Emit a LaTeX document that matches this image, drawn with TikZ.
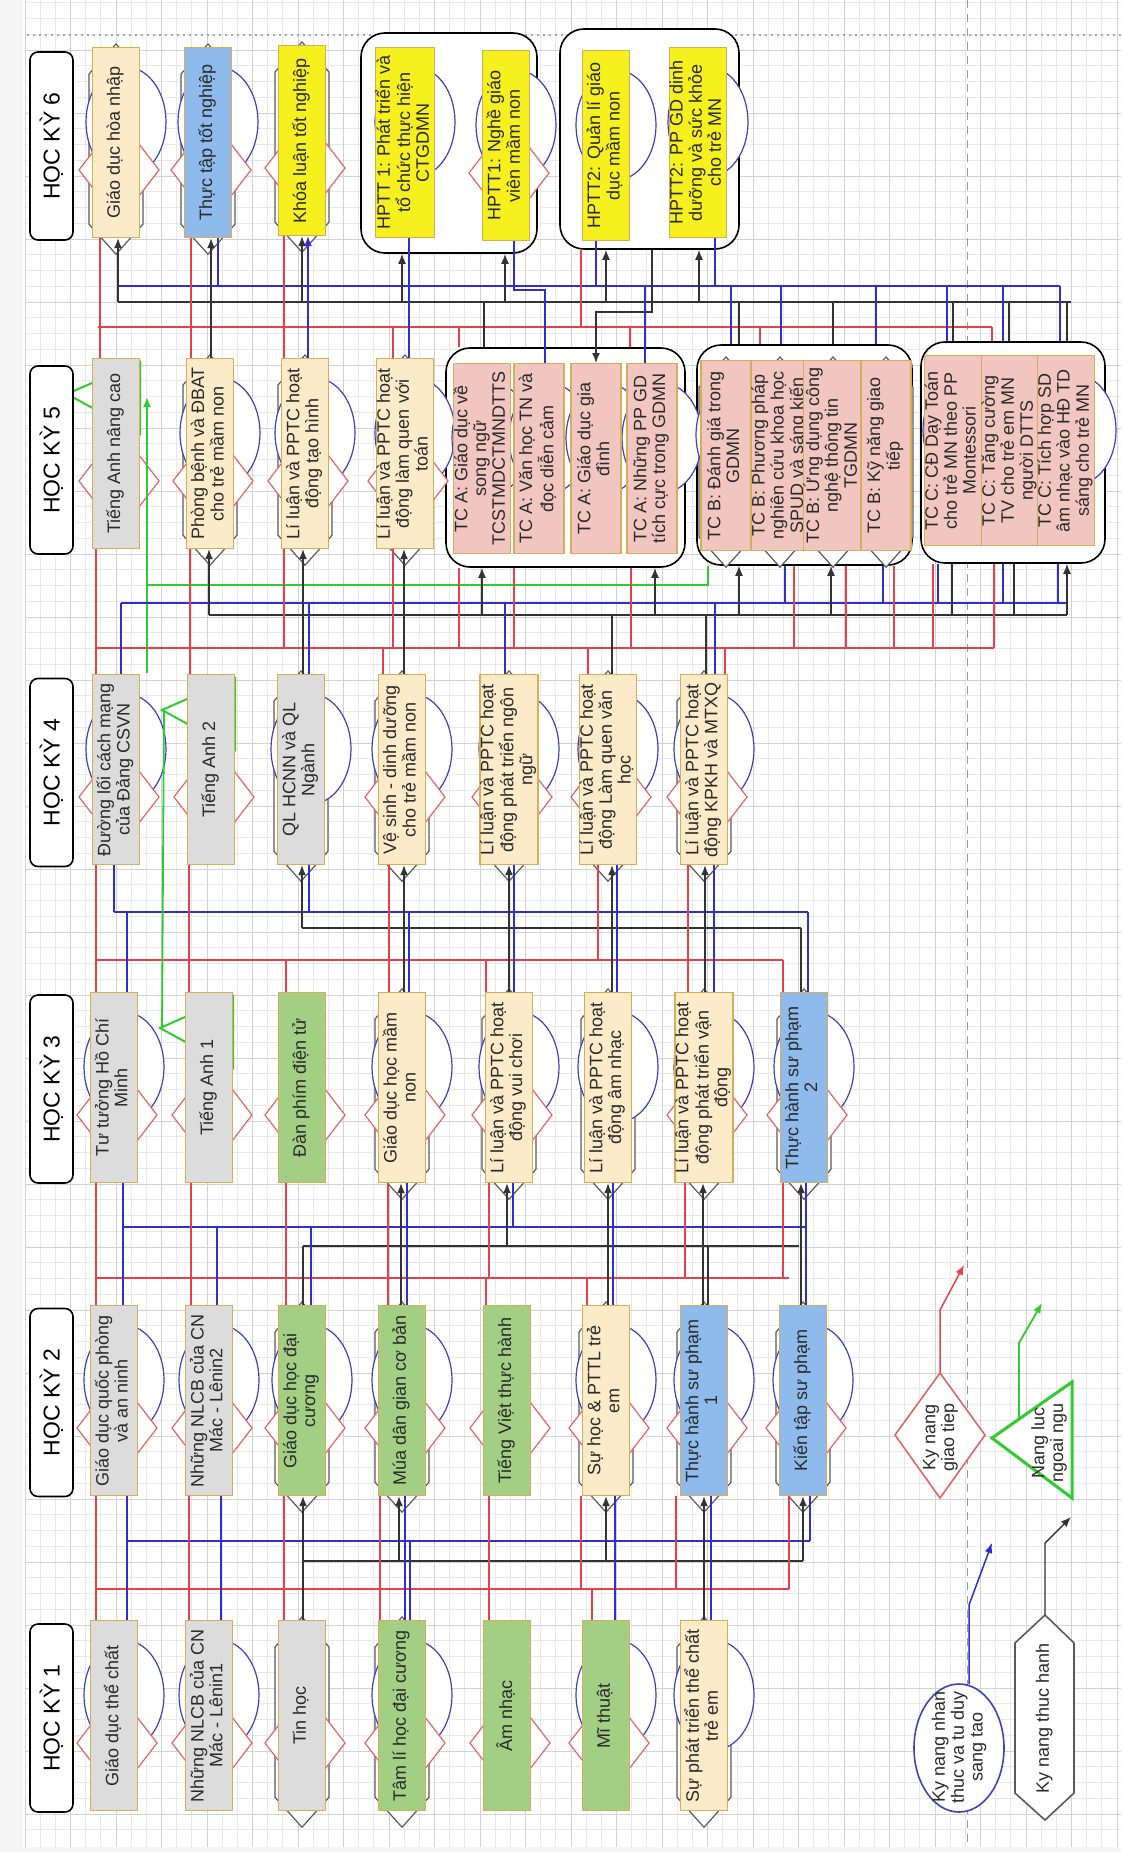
\documentclass[tikz,border=0pt]{standalone}
\usepackage{fontspec}
\setmainfont{Liberation Sans}
\usetikzlibrary{arrows.meta,calc}
\definecolor{cream}{HTML}{FCEBC9}
\definecolor{grayb}{HTML}{DCDCDC}
\definecolor{blueb}{HTML}{8EBBEB}
\definecolor{yellb}{HTML}{F6F01E}
\definecolor{greenb}{HTML}{A3CF85}
\definecolor{pinkb}{HTML}{F2C6C0}
\definecolor{bordc}{HTML}{D6AE5A}
\definecolor{txtc}{HTML}{2A2A2A}
\definecolor{redc}{HTML}{E8404A}
\definecolor{bluec}{HTML}{2F2FD0}
\definecolor{blkc}{HTML}{333333}
\definecolor{grnc}{HTML}{2ECC2E}
\definecolor{ellc}{HTML}{4040C0}
\definecolor{diac}{HTML}{E06666}
\definecolor{hexc}{HTML}{5A5A5A}
\definecolor{gmin}{HTML}{E8E8E8}
\definecolor{gmaj}{HTML}{D2D2D2}
\definecolor{margc}{HTML}{F5F5F5}
\pgfdeclarelayer{gridl}\pgfdeclarelayer{grp}\pgfdeclarelayer{deco}\pgfdeclarelayer{conn}
\pgfsetlayers{gridl,grp,deco,conn,main}
\newcommand\rtext[1]{\rotatebox{90}{\begin{tabular}{@{}c@{}}#1\end{tabular}}}
\newcommand\vl[4]{\draw[#1] (#2,0 |- #3) -- (#2,0 |- #4);}
\newcommand\decE[1]{\draw[ellst] ($(#1.north)+(10,75)$) ellipse [x radius=20pt, y radius=27.5pt];}
\newcommand\decD[1]{\draw[diast] ($(#1.north)+(3,71)$) -- ++(40,52) -- ++(-40,52) -- ++(-40,-52) -- cycle;}
\newcommand\decH[1]{\draw[hexst] ($(#1.north)+(0,-3)$) -- ($(#1.north)+(27,27)$) -- ($(#1.south)+(27,-14)$) -- ($(#1.south)+(0,16)$) -- ($(#1.south)+(-27,-14)$) -- ($(#1.north)+(-27,27)$) -- cycle;}
\newcommand\decT[1]{\draw[trist] ($(#1.north)+(-49,36)$) -- ($(#1.north)+(24,4)$) -- ($(#1.north)+(24,76)$) -- cycle;}
\begin{document}
\begin{tikzpicture}[x=0.5pt,y=-0.5pt,
  course/.style={draw=bordc,line width=0.6pt,minimum width=23.5pt,minimum height=95pt,inner sep=0pt,anchor=north,text=txtc,font=\fontsize{9}{9.4}\selectfont},
  tcb/.style={course,fill=pinkb,minimum width=25pt},
  lab/.style={draw=black,line width=0.8pt,rounded corners=4pt,fill=white,minimum width=21.5pt,minimum height=94pt,inner sep=0pt,font=\fontsize{11.5}{12}\selectfont},
  grpbox/.style={draw=black,line width=0.8pt,rounded corners=12pt,fill=white,inner sep=0pt},
  ellst/.style={draw=ellc,line width=0.6pt,fill=white},
  diast/.style={draw=diac,line width=0.6pt,fill=white},
  hexst/.style={draw=hexc,line width=0.6pt,fill=white},
  trist/.style={draw=grnc,line width=1pt,fill=white},
  rl/.style={draw=redc,line width=0.75pt},
  bl/.style={draw=bluec,line width=0.75pt},
  kl/.style={draw=blkc,line width=0.7pt},
  gl/.style={draw=grnc,line width=0.9pt},
  ka/.style={kl,-{Latex[length=5pt,width=4pt]}},
  ba/.style={bl,-{Latex[length=5pt,width=4pt]}},
  ra/.style={rl,-{Latex[length=5pt,width=4pt]}},
  ga/.style={gl,-{Latex[length=5pt,width=4pt]}},
  legtxt/.style={inner sep=0pt,text=txtc,font=\fontsize{9}{9.4}\selectfont}
]
\useasboundingbox (0,0) rectangle (1121,1852);
% ---------------- background grid
\begin{pgfonlayer}{gridl}
\fill[white] (0,0) rectangle (1121,1852);
\fill[margc] (0,0) rectangle (23,1852);
\fill[margc] (0,1847) rectangle (1121,1852);
\foreach \k in {0,...,72} {\draw[gmin,line width=0.4pt] ({25+\k*15.1667},0) -- ({25+\k*15.1667},1847);}
\foreach \k in {1,...,117} {\draw[gmin,line width=0.4pt] (25,{-13+\k*15.75}) -- (1121,{-13+\k*15.75});}
\foreach \k in {0,...,24} {\draw[gmaj,line width=0.5pt] ({25+\k*45.5},0) -- ({25+\k*45.5},1847);}
\foreach \k in {0,...,28} {\draw[gmaj,line width=0.5pt] (25,{50+\k*63}) -- (1121,{50+\k*63});}
\draw[black!35,line width=0.6pt,dash pattern=on 1.2pt off 1.8pt] (27,35) -- (1121,35);
\draw[black!40,line width=0.5pt,dash pattern=on 4pt off 3pt] (967,0) -- (967,1847);
\end{pgfonlayer}
% ---------------- group boxes
\begin{pgfonlayer}{grp}
\node[grpbox,minimum width=88pt,minimum height=110pt] (g61) at (449,143) {};
\node[grpbox,minimum width=89.5pt,minimum height=110pt] (g62) at (649.5,139) {};
\node[grpbox,minimum width=119.5pt,minimum height=109.5pt] (gA) at (565.5,457.5) {};
\node[grpbox,minimum width=107.5pt,minimum height=110pt] (gB) at (804.5,455) {};
\node[grpbox,minimum width=92pt,minimum height=110.5pt] (gC) at (1013,452.5) {};
\end{pgfonlayer}
% ---------------- semester labels
\node[lab] (L6) at (51.5,146) {\rotatebox{90}{HỌC KỲ 6}};
\node[lab] (L5) at (51.5,460) {\rotatebox{90}{HỌC KỲ 5}};
\node[lab] (L4) at (51.5,772.5) {\rotatebox{90}{HỌC KỲ 4}};
\node[lab] (L3) at (51.5,1089) {\rotatebox{90}{HỌC KỲ 3}};
\node[lab] (L2) at (51.5,1402.5) {\rotatebox{90}{HỌC KỲ 2}};
\node[lab] (L1) at (51.5,1718) {\rotatebox{90}{HỌC KỲ 1}};
% ---------------- row 6
\node[course,fill=cream] (r6a) at (116,47) {\rtext{Giáo dục hòa nhập}};
\node[course,fill=blueb] (r6b) at (208,47) {\rtext{Thực tập tốt nghiệp}};
\node[course,fill=yellb] (r6c) at (302,45) {\rtext{Khóa luận tốt nghiệp}};
\node[course,fill=yellb] (r6d) at (405,47) {\rtext{HPTT 1: Phát triển và\\tổ chức thực hiện\\CTGDMN}};
\node[course,fill=yellb] (r6e) at (506,50) {\rtext{HPTT1: Nghề giáo\\viên mầm non}};
\node[course,fill=yellb] (r6f) at (606,50) {\rtext{HPTT2: Quản lí giáo\\dục mầm non}};
\node[course,fill=yellb] (r6g) at (698,47) {\rtext{HPTT2: PP GD dinh\\dưỡng và sức khỏe\\cho trẻ MN}};
% ---------------- row 5
\node[course,fill=grayb] (r5a) at (116,358) {\rtext{Tiếng Anh nâng cao}};
\node[course,fill=cream] (r5b) at (210,358) {\rtext{Phòng bệnh và ĐBAT\\cho trẻ mầm non}};
\node[course,fill=cream] (r5c) at (305,358) {\rtext{Lí luận và PPTC hoạt\\động tạo hình}};
\node[course,fill=cream] (r5d) at (405,358) {\rtext{Lí luận và PPTC hoạt\\động làm quen với\\toán}};
\node[tcb] (r5e) at (482,363) {\rtext{TC A:  Giáo dục về\\song ngữ\\TCSTMDCTMNDTTS}};
\node[tcb] (r5f) at (539,363) {\rtext{TC A: Văn học TN và\\đọc diễn cảm}};
\node[tcb] (r5g) at (596,363) {\rtext{TC A: Giáo dục gia\\đình}};
\node[tcb] (r5h) at (652,363) {\rtext{TC A: Những PP GD\\tích cực trong GDMN}};
\node[tcb] (r5i) at (726,360) {\rtext{TC B:  Đánh giá trong\\GDMN}};
\node[tcb] (r5j) at (780,360) {\rtext{TC B: Phương pháp\\nghiên cứu khoa học\\SPUD và sáng kiến}};
\node[tcb] (r5k) at (833,360) {\rtext{TC B: Ứng dụng công\\nghệ thông tin\\TGDMN}};
\node[tcb] (r5l) at (886,360) {\rtext{TC B: Kỹ năng giao\\tiếp}};
\node[tcb] (r5m) at (953,355) {\rtext{TC C:  CĐ Dạy Toán\\cho trẻ MN theo PP\\Montessori}};
\node[tcb] (r5n) at (1010,355) {\rtext{TC C: Tăng cường\\TV cho trẻ em MN\\người DTTS}};
\node[tcb] (r5o) at (1066,355) {\rtext{TC C: Tích hợp SD\\âm nhạc vào HĐ TD\\sáng cho trẻ MN}};
% ---------------- row 4
\node[course,fill=grayb] (r4a) at (116,674) {\rtext{Đường lối cách mạng\\của Đảng CSVN}};
\node[course,fill=grayb] (r4b) at (211,674) {\rtext{Tiếng Anh 2}};
\node[course,fill=grayb] (r4c) at (301,674) {\rtext{QL HCNN và QL\\Ngành}};
\node[course,fill=cream] (r4d) at (402,674) {\rtext{Vệ sinh - dinh dưỡng\\cho trẻ mầm non}};
\node[course,fill=cream] (r4e) at (509,674) {\rtext{Lí luận và PPTC hoạt\\động phát triển ngôn\\ngữ}};
\node[course,fill=cream] (r4f) at (608,674) {\rtext{Lí luận và PPTC hoạt\\động Làm quen văn\\học}};
\node[course,fill=cream] (r4g) at (704,674) {\rtext{Lí luận và PPTC hoạt\\động KPKH và MTXQ}};
% ---------------- row 3
\node[course,fill=grayb] (r3a) at (114,992) {\rtext{Tư tưởng Hồ Chí\\Minh}};
\node[course,fill=grayb] (r3b) at (209,992) {\rtext{Tiếng Anh 1}};
\node[course,fill=greenb] (r3c) at (302,992) {\rtext{Đàn phím điện tử}};
\node[course,fill=cream] (r3d) at (402,992) {\rtext{Giáo dục học mầm\\non}};
\node[course,fill=cream] (r3e) at (509,992) {\rtext{Lí luận và PPTC hoạt\\động vui chơi}};
\node[course,fill=cream] (r3f) at (608,992) {\rtext{Lí luận và PPTC hoạt\\động âm nhạc}};
\node[course,fill=cream] (r3g) at (704,992) {\rtext{Lí luận và PPTC hoạt\\động phát triển vận\\động}};
\node[course,fill=blueb] (r3h) at (804,992) {\rtext{Thực hành sư phạm\\2}};
% ---------------- row 2
\node[course,fill=grayb] (r2a) at (114,1305) {\rtext{Giáo dục quốc phòng\\và an ninh}};
\node[course,fill=grayb] (r2b) at (209,1305) {\rtext{Những NLCB của CN\\Mác - Lênin2}};
\node[course,fill=greenb] (r2c) at (302,1305) {\rtext{Giáo dục học đại\\cương}};
\node[course,fill=greenb] (r2d) at (402,1305) {\rtext{Múa dân gian cơ bản}};
\node[course,fill=greenb] (r2e) at (507,1305) {\rtext{Tiếng Việt thực hành}};
\node[course,fill=cream] (r2f) at (606,1305) {\rtext{Sự học \& PTTL trẻ\\em}};
\node[course,fill=blueb] (r2g) at (704,1305) {\rtext{Thực hành sư phạm\\1}};
\node[course,fill=blueb] (r2h) at (803,1305) {\rtext{Kiến tập sư phạm}};
% ---------------- row 1
\node[course,fill=grayb] (r1a) at (114,1620) {\rtext{Giáo dục thể chất}};
\node[course,fill=grayb] (r1b) at (209,1620) {\rtext{Những NLCB của CN\\Mác - Lênin1}};
\node[course,fill=grayb] (r1c) at (302,1620) {\rtext{Tin học}};
\node[course,fill=greenb] (r1d) at (402,1620) {\rtext{Tâm lí học đại cương}};
\node[course,fill=greenb] (r1e) at (507,1620) {\rtext{Âm nhạc}};
\node[course,fill=greenb] (r1f) at (606,1620) {\rtext{Mĩ thuật}};
\node[course,fill=cream] (r1g) at (704,1620) {\rtext{Sự phát triển thể chất\\trẻ em}};
% ---------------- decorations
\begin{pgfonlayer}{deco}
\decH{r6a}\decE{r6a}\decD{r6a}
\decH{r6b}\decE{r6b}\decD{r6b}
\decH{r6c}\decD{r6c}
\decE{r6d}
\decE{r6e}\decD{r6e}
\decE{r6f}
\decE{r6g}
\decD{r5a}\decT{r5a}
\decH{r5b}\decE{r5b}\decD{r5b}
\decH{r5c}\decE{r5c}\decD{r5c}
\decH{r5d}\decE{r5d}\decD{r5d}
\decE{r5e}\decE{r5f}\decE{r5g}\decE{r5h}
\decH{r5i}\decE{r5i}\decH{r5j}\decH{r5k}\decH{r5l}
\decE{r5m}\decE{r5n}\decE{r5o}
\decE{r4a}\decD{r4a}
\decD{r4b}\decT{r4b}
\decH{r4c}\decE{r4c}
\decH{r4d}\decE{r4d}\decD{r4d}
\decH{r4e}\decE{r4e}\decD{r4e}
\decH{r4f}\decE{r4f}\decD{r4f}
\decH{r4g}\decE{r4g}\decD{r4g}
\decE{r3a}\decD{r3a}
\decD{r3b}\decT{r3b}
\decD{r3c}
\decH{r3d}\decE{r3d}\decD{r3d}
\decH{r3e}\decE{r3e}\decD{r3e}
\decH{r3f}\decE{r3f}
\decH{r3g}\decE{r3g}\decD{r3g}
\decH{r3h}\decE{r3h}\decD{r3h}
\decE{r2a}\decD{r2a}
\decE{r2b}\decD{r2b}
\decH{r2c}\decE{r2c}\decD{r2c}
\decH{r2d}\decE{r2d}\decD{r2d}
\decD{r2e}
\decH{r2f}\decE{r2f}\decD{r2f}
\decH{r2g}\decE{r2g}\decD{r2g}
\decH{r2h}\decE{r2h}\decD{r2h}
\decE{r1a}\decD{r1a}
\decE{r1b}\decD{r1b}
\decH{r1c}\decD{r1c}
\decH{r1d}\decE{r1d}\decD{r1d}
\decD{r1e}
\decE{r1f}\decD{r1f}
\decH{r1g}\decE{r1g}
% legend shapes
\draw[draw=diac,line width=0.8pt,fill=white] (940,1373) -- (985,1435) -- (940,1498) -- (895,1435) -- cycle;
\draw[draw=grnc,line width=1.5pt,fill=white] (992,1438) -- (1072,1382) -- (1072,1498) -- cycle;
\draw[draw=ellc,line width=0.8pt,fill=white] (959,1748) ellipse [x radius=22.5pt, y radius=32pt];
\draw[draw=hexc,line width=0.8pt,fill=white] (1045,1615) -- (1074,1643) -- (1074,1793) -- (1045,1820) -- (1015,1793) -- (1015,1643) -- cycle;
\end{pgfonlayer}
\node[legtxt] (legD) at (941,1437) {\rtext{Ky nang\\giao tiep}};
\node[legtxt] (legT) at (1050,1443) {\rtext{Nang luc\\ngoai ngu}};
\node[legtxt] (legE) at (960,1747) {\rtext{Ky nang nhan\\thuc va tu duy\\sang tao}};
\node[legtxt] (legH) at (1045,1718) {\rtext{Ky nang thuc hanh}};
\coordinate (legDtop) at (940,1373);
\coordinate (legTtop) at (1019,1419);
\coordinate (legEtop) at (969,1684);
\coordinate (legHtop) at (1045,1615);
% ---------------- connectors
\begin{pgfonlayer}{conn}
% legend arrows
\draw[ra] (legDtop) -- ++(0,-63) -- ++(24,-45);
\draw[ga] (legTtop) -- ++(0,-76) -- ++(23,-40);
\draw[ba] (legEtop) -- ++(0,-79) -- ++(23,-62);
\draw[ka] (legHtop) -- ++(0,-72) -- ++(26,-26);
% ===== gap 1-2
\draw[bl] (127,1541) -- (810,1541);
\draw[kl] (303,1561) -- (803,1561);
\draw[rl] (96,1589) -- (789,1589);
\vl{rl}{96}{r2a.south}{r1a.north}
\vl{bl}{127}{r2a.south}{r1a.north}
\vl{rl}{189}{r2b.south}{r1b.north}
\vl{bl}{221}{r2b.south}{r1b.north}
\vl{rl}{284}{r2c.south}{r1c.north}
\vl{kl}{303}{r1c.north}{0,1561}
\vl{ka}{303}{0,1561}{r2c.south}
\vl{rl}{380}{r2d.south}{r1d.north}
\vl{ka}{399}{0,1561}{r2d.south}
\vl{bl}{405}{r2d.south}{r1d.north}
\vl{bl}{410}{0,1541}{r1d.north}
\vl{rl}{489}{r2e.south}{r1e.north}
\vl{rl}{581}{r2f.south}{0,1589}
\vl{rl}{592}{0,1589}{r1f.north}
\vl{ka}{606}{0,1561}{r2f.south}
\vl{bl}{615}{r2f.south}{r1f.north}
\vl{rl}{676}{r2g.south}{0,1589}
\vl{ka}{704}{r1g.north}{r2g.south}
\vl{bl}{711}{r2g.south}{r1g.north}
\vl{rl}{789}{r2h.south}{0,1589}
\vl{ka}{803}{0,1561}{r2h.south}
\vl{bl}{810}{r2h.south}{0,1541}
% ===== gap 2-3
\draw[bl] (123,1227) -- (806,1227);
\draw[kl] (303,1246) -- (799,1246);
\draw[rl] (96,1278) -- (789,1278);
\vl{rl}{96}{r3a.south}{r2a.north}
\vl{bl}{123}{r3a.south}{r2a.north}
\vl{rl}{191}{r3b.south}{r2b.north}
\vl{bl}{217}{0,1227}{r2b.north}
\vl{rl}{286}{r3c.south}{r2c.north}
\vl{kl}{303}{0,1246}{r2c.north}
\vl{bl}{311}{0,1227}{r2c.north}
\vl{rl}{388}{r3d.south}{r2d.north}
\vl{ka}{401}{r2d.north}{r3d.south}
\vl{bl}{407}{r2d.north}{r3d.south}
\vl{rl}{489}{r3e.south}{0,1278}
\vl{rl}{486}{0,1278}{r2e.north}
\vl{ka}{507}{0,1246}{r3e.south}
\vl{bl}{513}{r3e.south}{0,1227}
\vl{rl}{587}{0,1278}{r2f.north}
\vl{ka}{608}{r2f.north}{r3f.south}
\vl{bl}{613}{r3f.south}{r2f.north}
\vl{rl}{685}{r3g.south}{0,1278}
\vl{ka}{703}{r2g.north}{r3g.south}
\vl{kl}{708}{r2g.north}{0,1246}
\vl{rl}{783}{r3h.south}{0,1278}
\vl{ka}{801}{r2h.north}{r3h.south}
\vl{bl}{806}{r3h.south}{r2h.north}
% ===== gap 3-4
\draw[bl] (114,912) -- (808,912);
\draw[kl] (302,928) -- (801,928);
\draw[rl] (96,960) -- (783,960);
\vl{rl}{96}{r4a.south}{r3a.north}
\vl{bl}{114}{r4a.south}{0,912}
\vl{bl}{127}{0,912}{r3a.north}
\vl{rl}{189}{r4b.south}{r3b.north}
\draw[gl] ($(r3b.north)+(-47,36)$) -- ($(r4b.north)+(-47,36)$);
\vl{rl}{286}{0,960}{r3c.north}
\vl{ka}{302}{0,928}{r4c.south}
\vl{bl}{309}{r4c.south}{0,912}
\vl{rl}{389}{r4d.south}{r3d.north}
\vl{ka}{404}{r3d.north}{r4d.south}
\vl{bl}{409}{r3d.north}{0,912}
\vl{rl}{486}{0,960}{r3e.north}
\vl{ka}{509}{r3e.north}{r4e.south}
\vl{bl}{514}{r3e.north}{r4e.south}
\vl{rl}{598}{r4f.south}{0,960}
\vl{ka}{612}{r3f.north}{r4f.south}
\vl{bl}{617}{r3f.north}{r4f.south}
\vl{rl}{688}{r4g.south}{r3g.north}
\vl{ka}{705}{r3g.north}{r4g.south}
\vl{bl}{714}{r3g.north}{r4g.south}
\vl{rl}{783}{0,960}{r3h.north}
\vl{kl}{801}{0,928}{r3h.north}
\vl{bl}{808}{0,912}{r3h.north}
% ===== gap 4-5
\draw[gl] (147,585) -- (708,585) -- (708,0 |- gB.south);
\draw[ga] (147,673) -- (147,397);
\draw[bl] (121,603) -- (1067,603);
\draw[kl] (209,615) -- (1067,615);
\draw[rl] (96,648) -- (994,648);
\vl{rl}{96}{r5a.south}{r4a.north}
\vl{bl}{121}{0,603}{r4a.north}
\vl{rl}{190}{r5b.south}{r4b.north}
\vl{ka}{209}{0,615}{r5b.south}
\vl{rl}{284}{r5c.south}{0,648}
\vl{ka}{303}{r4c.north}{r5c.south}
\vl{bl}{309}{r4c.north}{0,603}
\vl{rl}{393}{r5d.south}{0,648}
\vl{rl}{383}{0,648}{r4d.north}
\vl{ka}{404}{r4d.north}{r5d.south}
\vl{rl}{459}{gA.south}{0,648}
\vl{ka}{482}{0,615}{gA.south}
\vl{bl}{505}{r4e.north}{0,603}
\vl{rl}{514}{gA.south}{0,648}
\vl{rl}{588}{0,648}{r4f.north}
\vl{kl}{612}{r4f.north}{0,615}
\vl{rl}{631}{gA.south}{0,648}
\vl{ka}{655}{0,615}{gA.south}
\vl{kl}{706}{r4g.north}{0,615}
\vl{bl}{715}{r4g.north}{0,603}
\vl{rl}{725}{0,648}{r4g.north}
\vl{ka}{739}{0,615}{gB.south}
\vl{bl}{785}{gB.south}{0,603}
\vl{rl}{794}{gB.south}{0,648}
\vl{ka}{831}{0,615}{gB.south}
\vl{rl}{846}{gB.south}{0,648}
\vl{bl}{883}{gB.south}{0,603}
\vl{rl}{894}{gB.south}{0,648}
\vl{rl}{933}{gC.south}{0,648}
\vl{bl}{938}{gC.south}{0,603}
\vl{kl}{952}{gC.south}{0,615}
\vl{rl}{994}{gC.south}{0,648}
\vl{bl}{1003}{gC.south}{0,603}
\vl{kl}{1014}{gC.south}{0,615}
\vl{bl}{1058}{gC.south}{0,603}
\vl{ka}{1067}{0,615}{gC.south}
% ===== gap 5-6
\draw[bl] (118,286) -- (1060,286);
\draw[kl] (118,302) -- (1071,302);
\draw[rl] (98,327) -- (992,327);
\vl{ka}{118}{0,302}{r6a.south}
\vl{rl}{100}{r6a.south}{r5a.north}
\vl{rl}{191}{r6b.south}{r5b.north}
\vl{ka}{211}{r5b.north}{r6b.south}
\vl{bl}{218}{r6b.south}{0,286}
\vl{rl}{284}{r6c.south}{r5c.north}
\vl{ka}{302}{0,302}{r6c.south}
\vl{ba}{308}{r5c.north}{r6c.south}
\vl{rl}{393}{0,327}{r5d.north}
\vl{bl}{409}{r6d.south}{r5d.north}
\vl{ka}{402}{0,302}{g61.south}
\vl{ka}{505}{0,302}{g61.south}
\vl{kl}{484}{gA.north}{0,302}
\vl{rl}{459}{0,327}{gA.north}
\draw[bl] (514,0 |- r6e.south) -- (514,290) -- (545,290) -- (545,0 |- r5f.north);
\vl{rl}{581}{g62.south}{0,327}
\vl{bl}{596}{r6f.south}{0,286}
\vl{ka}{606}{0,302}{g62.south}
\draw[ka] (652,0 |- g62.south) -- (652,312) -- (596,312) -- (596,0 |- r5g.north);
\vl{bl}{645}{0,286}{r5h.north}
\vl{rl}{630}{0,327}{gA.north}
\vl{ka}{699}{0,302}{g62.south}
\vl{bl}{715}{r6g.south}{0,286}
\vl{bl}{731}{gB.north}{0,286}
\vl{kl}{739}{gB.north}{0,302}
\vl{rl}{760}{0,327}{gB.north}
\vl{bl}{781}{gB.north}{0,286}
\vl{kl}{833}{gB.north}{0,302}
\vl{bl}{876}{gB.north}{0,286}
\vl{bl}{947}{gC.north}{0,286}
\vl{kl}{953}{gC.north}{0,302}
\vl{rl}{992}{0,327}{gC.north}
\vl{bl}{1003}{gC.north}{0,286}
\vl{kl}{1009}{gC.north}{0,302}
\vl{bl}{1060}{gC.north}{0,286}
\vl{kl}{1067}{gC.north}{0,302}
\end{pgfonlayer}
\end{tikzpicture}
\end{document}
